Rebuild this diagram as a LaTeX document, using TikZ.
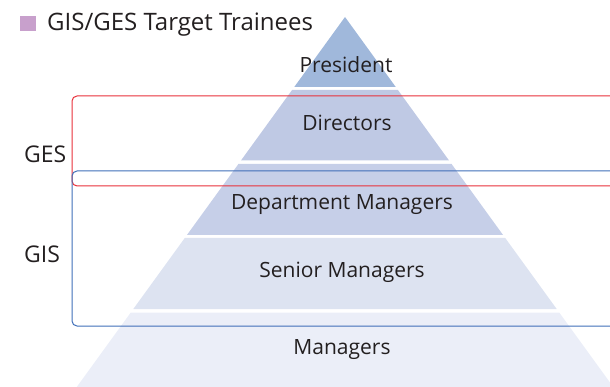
\documentclass[tikz,border=0pt]{standalone}
\usepackage{fontspec}
\setmainfont{Open Sans}
\definecolor{txt}{HTML}{231F20}
\definecolor{bandA}{HTML}{A0B8DB}
\definecolor{bandB}{HTML}{BFC9E4}
\definecolor{bandC}{HTML}{C6CFE8}
\definecolor{bandD}{HTML}{DDE3F1}
\definecolor{bandE}{HTML}{EBEEF8}
\definecolor{gesred}{HTML}{E8303A}
\definecolor{gisblue}{HTML}{3F6EB8}
\definecolor{marker}{HTML}{C8A0CC}
\newcommand{\pyrband}[3]{\fill[#3] ({345-0.725*(#1-17)},#1) -- ({345+0.725*(#1-17)},#1) -- ({345+0.725*(#2-17)},#2) -- ({345-0.725*(#2-17)},#2) -- cycle;}
\tikzset{
  lvl/.style={text=txt, font=\fontsize{21}{23}\selectfont, anchor=base, inner sep=0pt},
  side/.style={text=txt, font=\fontsize{23}{25}\selectfont, anchor=base west, inner sep=0pt},
  grpbox/.style={rounded corners=5pt, line width=1pt}
}
\begin{document}
\begin{tikzpicture}[x=1pt,y=-1pt]
\useasboundingbox (0,0) rectangle (610,387);
\clip (0,0) rectangle (610,387);
% pyramid
\fill[bandA] (345,17) -- ({345+0.725*70},87) -- ({345-0.725*70},87) -- cycle;
\pyrband{90}{160.5}{bandB}
\pyrband{164}{235}{bandC}
\pyrband{238}{309}{bandD}
\pyrband{312.5}{390}{bandE}
% level labels
\node[lvl] (pres) at (346,73) {President};
\node[lvl] (dir) at (347,131) {Directors};
\node[lvl] (dept) at (342,210) {Department Managers};
\node[lvl] (sen) at (342,277) {Senior Managers};
\node[lvl] (mgr) at (342,354) {Managers};
% group boxes
\draw[grpbox, gesred] (640,96) -- (72,96) -- (72,186) -- (640,186);
\draw[grpbox, gisblue] (640,171) -- (72,171) -- (72,326) -- (640,326);
\node[side] (ges) at (24,163) {GES};
\node[side] (gis) at (24,262) {GIS};
% title
\fill[marker] (20,16) rectangle (36,31.5);
\node[side, font=\fontsize{24}{26}\selectfont] (title) at (47,31) {GIS/GES Target Trainees};
\end{tikzpicture}
\end{document}
